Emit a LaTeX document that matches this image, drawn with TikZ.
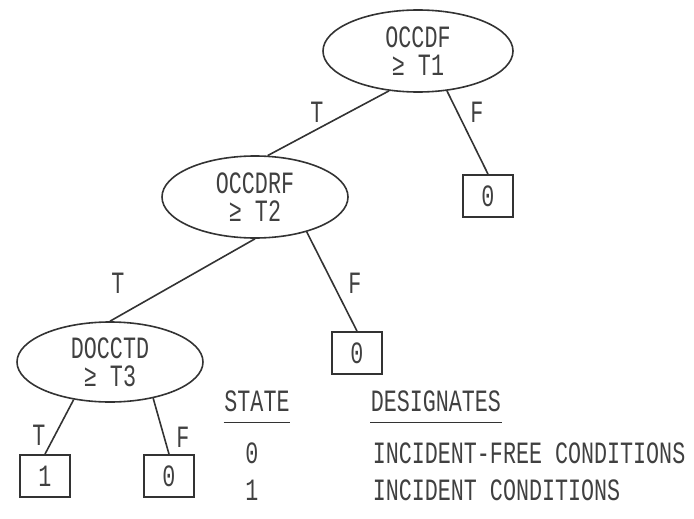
\documentclass[tikz,border=0pt]{standalone}
\usepackage{fontspec}
\setmainfont{Liberation Mono}[FakeStretch=0.7]
\usetikzlibrary{shapes.geometric}
\begin{document}
\begin{tikzpicture}[x=1pt,y=-1pt,line width=1.6pt,draw=black!80]
    \tikzstyle{every node}+=[inner sep=0pt,text=black!75,font=\fontsize{31}{28}\selectfont]
    \tikzstyle{test}=[draw=black!80,ellipse,minimum width=190pt,minimum height=82pt,align=center]
    \tikzstyle{leaf}=[draw=black!80,line width=1.8pt,minimum width=50pt,minimum height=42pt]
    \useasboundingbox (0,0) rectangle (694,519);
    \node [test] (occdf) at (418,51) {OCCDF\\ ≥ T1};
    \node [test,minimum width=186pt] (occdrf) at (255,197) {OCCDRF\\ ≥ T2};
    \node [test,minimum width=186pt,minimum height=80pt] (docctd) at (110,362) {DOCCTD\\ ≥ T3};
    \node [leaf] (zeroa) at (488,196) {0};
    \node [leaf] (zerob) at (357,353) {0};
    \node [leaf] (onec) at (45,476) {1};
    \node [leaf] (zeroc) at (169,476) {0};
    \draw (occdf.234) -- (occdrf.73);
    \draw (occdf.306) -- (zeroa.north);
    \draw (occdrf.south) -- (docctd.north);
    \draw (occdrf.326) -- (zerob.north);
    \draw (docctd.226) -- (onec.north);
    \draw (docctd.320) -- (zeroc.north);
    \node (ta) at (317,112) {T};
    \node (fa) at (477,112) {F};
    \node (tb) at (118,283) {T};
    \node (fb) at (355,283) {F};
    \node (tc) at (39,435) {T};
    \node (fc) at (183,437) {F};
    \node (state) at (257,401) {STATE};
    \node [anchor=west] (desig) at (370,401) {DESIGNATES};
    \draw [line width=1.4pt] ([yshift=-10pt]state.south west) -- ([yshift=-10pt]state.south east);
    \draw [line width=1.4pt] ([yshift=-10pt]desig.south west) -- ([yshift=-10pt]desig.south east);
    \node (sza) at (252,453) {0};
    \node [anchor=west] (dza) at (372,453) {INCIDENT-FREE CONDITIONS};
    \node (soa) at (252,490) {1};
    \node [anchor=west] (doa) at (372,490) {INCIDENT CONDITIONS};
\end{tikzpicture}
\end{document}
